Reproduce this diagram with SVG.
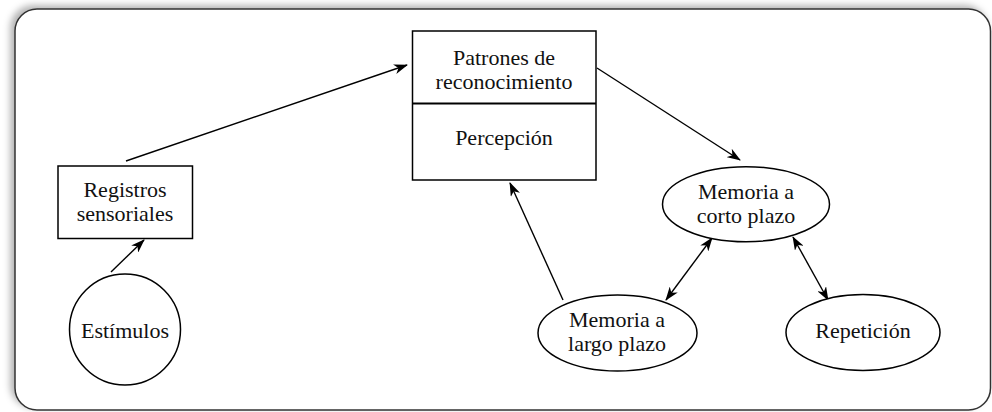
<svg xmlns="http://www.w3.org/2000/svg" width="992" height="412" viewBox="0 0 992 412">
  <defs>
    <filter id="shadow" x="-5%" y="-5%" width="110%" height="110%">
      <feDropShadow dx="-4" dy="-3" stdDeviation="3.5" flood-color="#000" flood-opacity="0.3"/>
    </filter>
    <marker id="arr" viewBox="0 0 14 10" refX="13" refY="5" markerWidth="14" markerHeight="10" markerUnits="userSpaceOnUse" orient="auto-start-reverse">
      <path d="M0,0 L14,5 L0,10 L4,5 z" fill="#000"/>
    </marker>
    <style>
      .shape { fill: #fff; stroke: #000; stroke-width: 1.5; }
      .lbl { font-family: "Liberation Serif", "Times New Roman", serif; font-size: 22px; fill: #111; text-anchor: middle; }
      .conn { stroke: #000; stroke-width: 1.4; fill: none; }
    </style>
  </defs>
  <rect x="0" y="0" width="992" height="412" fill="#fff"/>
  <g id="frame">
    <rect x="15" y="9" width="975.5" height="401" rx="22" ry="22" fill="#fff" stroke="#333" stroke-width="1.5" filter="url(#shadow)"/>
  </g>
  <g id="connectors">
    <line class="conn" x1="111" y1="272" x2="144" y2="240" marker-end="url(#arr)"/>
    <line class="conn" x1="126" y1="161" x2="407" y2="65" marker-end="url(#arr)"/>
    <line class="conn" x1="597" y1="68" x2="740" y2="160" marker-end="url(#arr)"/>
    <line class="conn" x1="563" y1="300" x2="510" y2="183" marker-end="url(#arr)"/>
    <line class="conn" x1="666" y1="300" x2="712" y2="238" marker-start="url(#arr)" marker-end="url(#arr)"/>
    <line class="conn" x1="793" y1="237" x2="828" y2="300" marker-start="url(#arr)" marker-end="url(#arr)"/>
  </g>
  <g id="patrones">
    <rect class="shape" x="412.5" y="31" width="183.5" height="149"/>
    <line x1="412.5" y1="103.5" x2="596" y2="103.5" stroke="#000" stroke-width="2"/>
    <text class="lbl" x="504" y="65">Patrones de</text>
    <text class="lbl" x="504" y="89">reconocimiento</text>
    <text class="lbl" x="504" y="145">Percepción</text>
  </g>
  <g id="registros">
    <rect class="shape" x="58" y="166" width="134.5" height="72.5"/>
    <text class="lbl" x="125" y="197">Registros</text>
    <text class="lbl" x="125" y="221">sensoriales</text>
  </g>
  <g id="estimulos">
    <circle class="shape" cx="125" cy="329.5" r="55.5"/>
    <text class="lbl" x="125" y="338">Estímulos</text>
  </g>
  <g id="corto">
    <ellipse class="shape" cx="746" cy="204.2" rx="83.5" ry="37.5"/>
    <text class="lbl" x="746" y="199">Memoria a</text>
    <text class="lbl" x="746" y="223">corto plazo</text>
  </g>
  <g id="largo">
    <ellipse class="shape" cx="617.5" cy="333" rx="79.5" ry="38"/>
    <text class="lbl" x="617" y="327">Memoria a</text>
    <text class="lbl" x="617" y="350.5">largo plazo</text>
  </g>
  <g id="repeticion">
    <ellipse class="shape" cx="863" cy="332.5" rx="77" ry="38"/>
    <text class="lbl" x="863" y="338">Repetición</text>
  </g>
</svg>
